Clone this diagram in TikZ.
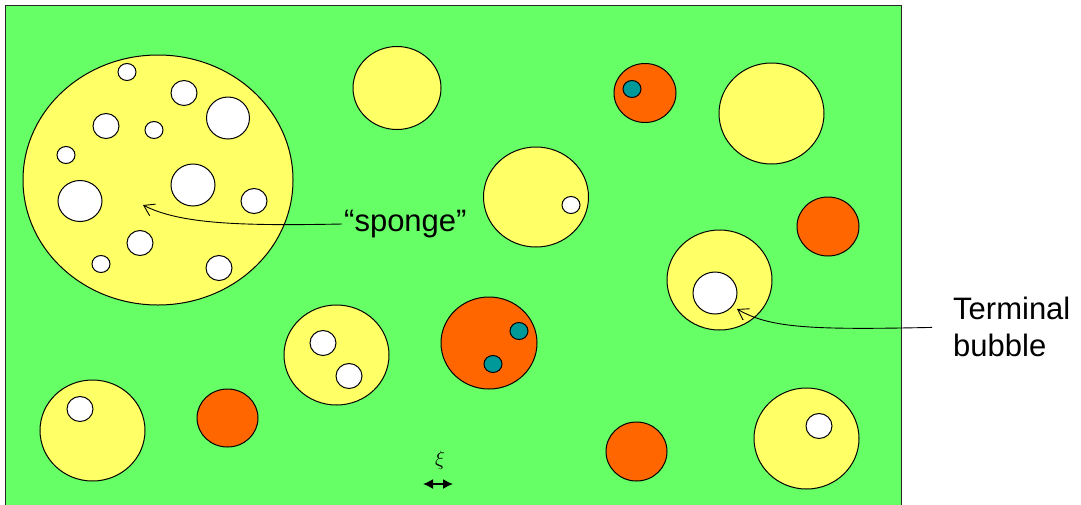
\documentclass[tikz,border=0pt]{standalone}
\usepackage{fontspec}
\setmainfont{Liberation Sans}
\usetikzlibrary{shapes.geometric,arrows.meta}
\definecolor{fieldgreen}{RGB}{102,255,102}
\definecolor{bubbleyellow}{RGB}{255,255,102}
\definecolor{bloborange}{RGB}{255,102,0}
\definecolor{speckteal}{RGB}{0,153,153}

\begin{document}
\begin{tikzpicture}[x=1pt,y=-1pt,
    drop/.style 2 args={ellipse, draw, line width=1pt, inner sep=0pt, minimum width=#1pt, minimum height=#2pt},
    bubble/.style 2 args={drop={#1}{#2}, fill=bubbleyellow},
    pore/.style 2 args={drop={#1}{#2}, fill=white},
    blob/.style 2 args={drop={#1}{#2}, fill=bloborange},
    speck/.style 2 args={drop={#1}{#2}, fill=speckteal},
    tag/.style={font=\fontsize{31}{37}\selectfont, align=left, inner sep=2pt},
    pointer/.style={line width=0.9pt, -{Straight Barb[length=10pt,width=13pt]}}]
   \useasboundingbox (0,0) rectangle (1081,504);
   \clip (0,0) rectangle (1081,504);
   \draw[fill=fieldgreen, draw=black!85, line width=1.5pt] (5.5,5.5) rectangle (901.5,520);
   % the sponge and its pores
   \node[bubble={270}{250}] (sp) at (158,180) {};
   \node[pore={18}{17}] (sp1) at (127,72) {};
   \node[pore={26}{25}] (sp2) at (184,93) {};
   \node[pore={43}{42}] (sp3) at (228,118) {};
   \node[pore={26}{25}] (sp4) at (106,126) {};
   \node[pore={18}{17}] (sp5) at (154,130) {};
   \node[pore={18}{17}] (sp6) at (66,155) {};
   \node[pore={44}{42}] (sp7) at (193,185) {};
   \node[pore={26}{25}] (sp8) at (254,201) {};
   \node[pore={44}{41}] (sp9) at (80,201) {};
   \node[pore={26}{25}] (sp10) at (140,243) {};
   \node[pore={18}{17}] (sp11) at (101,264) {};
   \node[pore={26}{25}] (sp12) at (219,268) {};
   % yellow bubbles
   \node[bubble={88}{83}] (b1) at (397,88) {};
   \node[bubble={105}{100}] (b2) at (536,197) {};
   \node[pore={18}{17}] (b2p) at (571,205) {};
   \node[bubble={105}{101}] (b3) at (771.5,113.5) {};
   \node[bubble={105}{100}] (b4) at (719.5,280) {};
   \node[pore={44}{42}] (b4p) at (715,293) {};
   \node[bubble={105}{100}] (b5) at (336.5,355) {};
   \node[pore={26}{25}] (b5p) at (323,343) {};
   \node[pore={26}{25}] (b5q) at (349,376) {};
   \node[bubble={105}{101}] (b6) at (92.5,430.5) {};
   \node[pore={26}{25}] (b6p) at (80,409) {};
   \node[bubble={105}{101}] (b7) at (806.5,438.5) {};
   \node[pore={26}{25}] (b7p) at (819,426) {};
   % orange drops
   \node[blob={62}{59}] (o1) at (645,93) {};
   \node[speck={18}{17}] (o1s) at (632,89) {};
   \node[blob={62}{59}] (o2) at (828,226.5) {};
   \node[blob={96}{92}] (o3) at (489,343) {};
   \node[speck={18}{17}] (o3s) at (519,331) {};
   \node[speck={18}{17}] (o3t) at (493,364) {};
   \node[blob={61}{58}] (o4) at (227.5,418) {};
   \node[blob={61}{59}] (o5) at (636.5,451.5) {};
   % labels
   \node[tag, anchor=west] (spt) at (342,224) {“sponge”};
   \node[tag, anchor=west] (tbt) at (951,327) {Terminal\\bubble};
   \coordinate (sptip) at (143,205);
   \coordinate (tbtip) at (737,309);
   \draw[pointer] (spt.west) .. controls (240,226) and (180,224) .. (sptip);
   \draw[pointer, shorten <=19pt] (tbt.west) .. controls (810,330) and (770,328) .. (tbtip);
   % length scale
   \node (xi) at (440,460.5) {\fontsize{20}{24}\selectfont$\xi$};
   \coordinate (xil) at (423,484);
   \coordinate (xir) at (453,484);
   \draw[line width=1.5pt, {Latex[length=10pt,width=10pt]}-{Latex[length=10pt,width=10pt]}] (xil) -- (xir);
\end{tikzpicture}
\end{document}
